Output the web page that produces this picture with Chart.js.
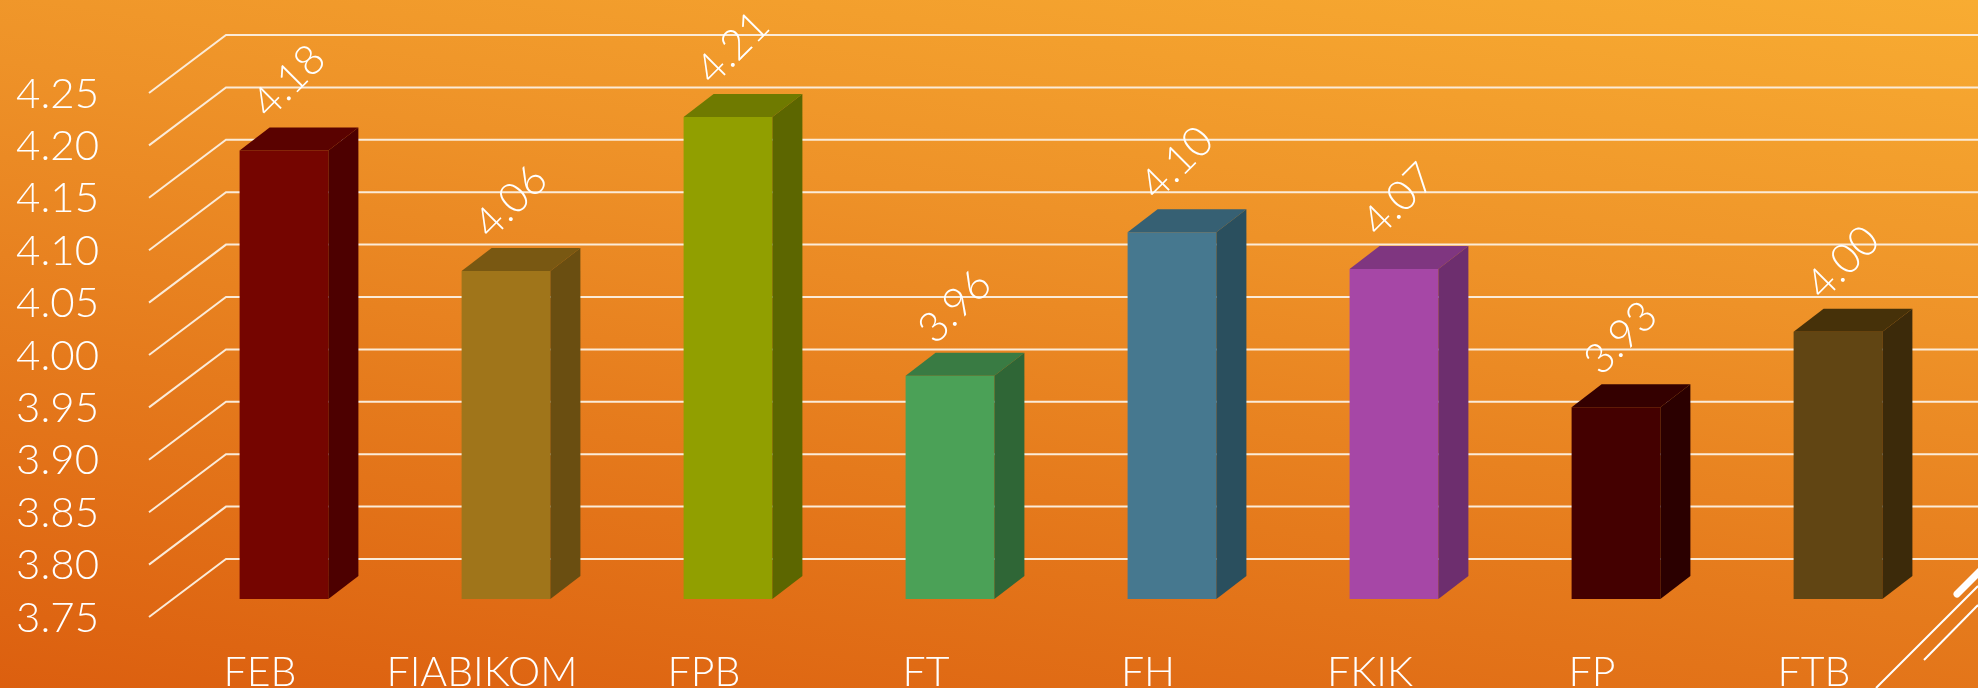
<!DOCTYPE html>
<html><head><meta charset="utf-8">
<style>
html,body{margin:0;padding:0;width:1978px;height:688px;overflow:hidden}
body{background:linear-gradient(188deg,#F8AC32 0%,#EE9228 35%,#E57A1C 65%,#DC5F0F 100%)}
canvas{display:block}
</style>
<script src="https://cdn.jsdelivr.net/npm/chart.js@4/dist/chart.umd.min.js"></script>
</head><body><canvas id="c" width="1978" height="688"></canvas>
<script>
const categories=["FEB","FIABIKOM","FPB","FT","FH","FKIK","FP","FTB"];
const values=[4.178,4.063,4.21,3.963,4.10,4.065,3.933,4.005];
const valueLabels=["4.18","4.06","4.21","3.96","4.10","4.07","3.93","4.00"];
const yTicks=[3.75,3.80,3.85,3.90,3.95,4.00,4.05,4.10,4.15,4.20,4.25];
const frontColors=["#750500","#A0751A","#919F00","#4BA157","#46788F","#A647A6","#440000","#614513"];
const topColors=["#5A0200","#795812","#6F7A00","#397B43","#366073","#7F3680","#340000","#463109"];
const sideColors=["#4D0000","#6A4E11","#5C6600","#2F6636","#2A4F5E","#6D2E6E","#2B0000","#3C2A0A"];
const FONT='"Lato","Open Sans",sans-serif';
const depthX=30,depthY=23;
const wall={backUp:40,frontDown:18,leftFront:24,leftBack:53};

const scene={id:'scene',
 beforeDatasetsDraw(ch){
  const c=ch.ctx,y=ch.scales.y,L=ch.chartArea.left;
  c.save();c.strokeStyle='#FBEBD8';c.lineWidth=2;
  yTicks.forEach(t=>{const p=y.getPixelForValue(t);
   c.beginPath();c.moveTo(L-wall.leftFront,p+wall.frontDown);
   c.lineTo(L+wall.leftBack,p-wall.backUp);c.lineTo(ch.width,p-wall.backUp);c.stroke();});
  // corner decoration of the slide
  c.strokeStyle='#FFFFFF';c.lineCap='butt';c.lineWidth=2;
  c.beginPath();c.moveTo(1876,688);c.lineTo(1978,586);c.stroke();
  c.beginPath();c.moveTo(1924,660);c.lineTo(1978,605);c.stroke();
  c.lineCap='round';c.lineWidth=7;
  c.beginPath();c.moveTo(1957,594);c.lineTo(1980,571);c.stroke();
  c.restore();
 },
 afterDatasetsDraw(ch){
  const c=ch.ctx,bars=ch.getDatasetMeta(0).data,base=ch.scales.y.getPixelForValue(yTicks[0]);
  bars.forEach((b,i)=>{
   const h=b.getProps(['x','y','width'],true);
   const l=h.x-h.width/2,r=h.x+h.width/2;
   c.fillStyle=topColors[i];c.beginPath();c.moveTo(l,h.y);c.lineTo(l+depthX,h.y-depthY);c.lineTo(r+depthX,h.y-depthY);c.lineTo(r,h.y);c.closePath();c.fill();
   c.fillStyle=sideColors[i];c.beginPath();c.moveTo(r,h.y);c.lineTo(r+depthX,h.y-depthY);c.lineTo(r+depthX,base-depthY);c.lineTo(r,base);c.closePath();c.fill();
   c.save();c.translate(h.x+5,h.y-69);c.rotate(-Math.PI/4);
   c.font='300 42px '+FONT;c.fillStyle='#FFFFFF';c.textAlign='center';c.textBaseline='middle';
   c.fillText(valueLabels[i],0,0);c.restore();
  });
 }};

new Chart(document.getElementById('c'),{
 type:'bar',
 data:{labels:categories,datasets:[{data:values,backgroundColor:frontColors,borderWidth:0,barPercentage:0.4,categoryPercentage:1}]},
 options:{responsive:false,animation:false,devicePixelRatio:1,
  layout:{padding:{top:75,right:29,left:0,bottom:0}},
  plugins:{legend:{display:false},tooltip:{enabled:false},title:{display:false}},
  scales:{
   x:{grid:{display:false},border:{display:false},
      ticks:{color:'#FFFFFF',font:{family:FONT,size:41,weight:'300'},padding:41,labelOffset:-24,maxRotation:0,autoSkip:false},
      afterFit(s){s.height=89;s.paddingLeft=0;s.paddingRight=0}},
   y:{min:3.75,max:4.25,grid:{display:false,drawTicks:false},border:{display:false},
      afterBuildTicks(s){s.ticks=yTicks.map(v=>({value:v}))},
      ticks:{color:'#FFFFFF',font:{family:FONT,size:42,weight:'300'},padding:74,labelOffset:19,autoSkip:false,callback:v=>v.toFixed(2)},
      afterFit(s){s.width=173;s.paddingTop=0;s.paddingBottom=0}}
  }
 },
 plugins:[scene]
});
</script></body></html>
